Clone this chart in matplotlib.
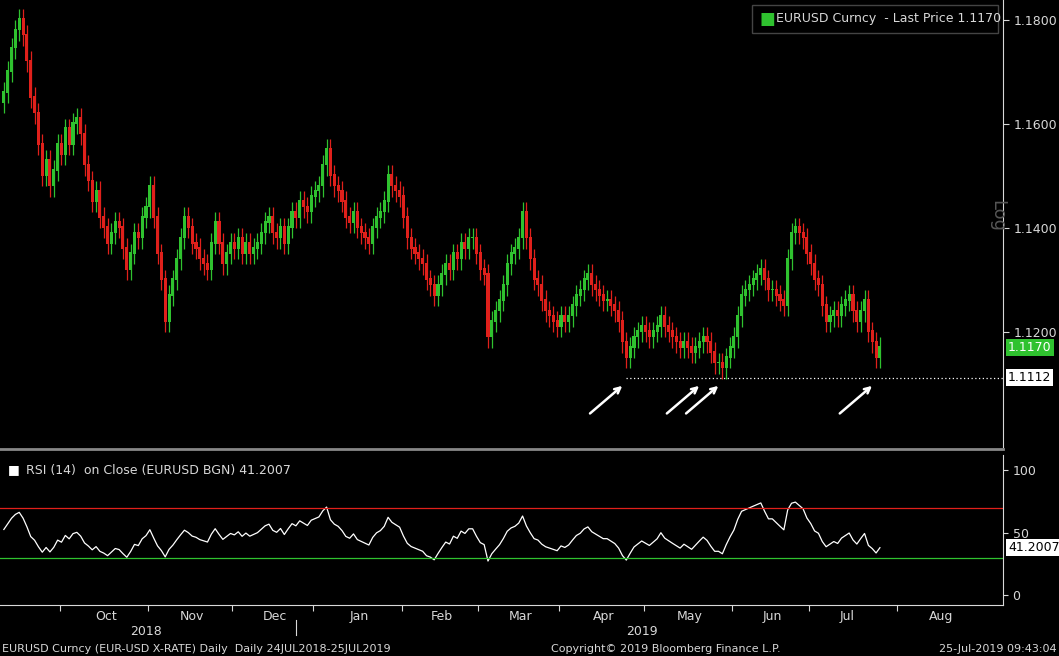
import matplotlib
matplotlib.use("Agg")
import matplotlib.pyplot as plt
from matplotlib.patches import Rectangle
import numpy as np
import pandas as pd

# daily closes (EURUSD)
closes = [
    1.1660, 1.1700, 1.1745, 1.1780, 1.1800, 1.1770, 1.1720, 1.1650, 1.1620, 1.1560,
    1.1500, 1.1530, 1.1480, 1.1510, 1.1560, 1.1540, 1.1590, 1.1560, 1.1600, 1.1610,
    1.1580, 1.1520, 1.1490, 1.1450, 1.1470, 1.1420, 1.1400, 1.1370, 1.1390, 1.1410,
    1.1400, 1.1360, 1.1320, 1.1350, 1.1390, 1.1380, 1.1420, 1.1440, 1.1480, 1.1420,
    1.1350, 1.1300, 1.1220, 1.1270, 1.1300, 1.1340, 1.1380, 1.1420, 1.1400, 1.1370,
    1.1360, 1.1340, 1.1330, 1.1320, 1.1370, 1.1410, 1.1370, 1.1330, 1.1350, 1.1370,
    1.1360, 1.1380, 1.1350, 1.1370, 1.1350, 1.1360, 1.1370, 1.1390, 1.1410, 1.1420,
    1.1390, 1.1380, 1.1400, 1.1370, 1.1400, 1.1430, 1.1420, 1.1450, 1.1440, 1.1430,
    1.1460, 1.1470, 1.1480, 1.1520, 1.1550, 1.1500, 1.1480, 1.1470, 1.1450, 1.1420,
    1.1410, 1.1430, 1.1400, 1.1390, 1.1380, 1.1370, 1.1400, 1.1420, 1.1430, 1.1450,
    1.1500, 1.1480, 1.1470, 1.1460, 1.1420, 1.1380, 1.1360, 1.1350, 1.1340, 1.1330,
    1.1300, 1.1290, 1.1270, 1.1290, 1.1310, 1.1330, 1.1320, 1.1350, 1.1340, 1.1370,
    1.1360, 1.1380, 1.1380, 1.1350, 1.1320, 1.1310, 1.1190, 1.1220, 1.1240, 1.1260,
    1.1290, 1.1330, 1.1350, 1.1360, 1.1380, 1.1430, 1.1380, 1.1340, 1.1300, 1.1290,
    1.1260, 1.1240, 1.1230, 1.1220, 1.1210, 1.1230, 1.1220, 1.1230, 1.1250, 1.1270,
    1.1280, 1.1300, 1.1310, 1.1290, 1.1280, 1.1270, 1.1260, 1.1260, 1.1250, 1.1240,
    1.1220, 1.1180, 1.1150, 1.1170, 1.1190, 1.1200, 1.1210, 1.1200, 1.1190, 1.1200,
    1.1210, 1.1230, 1.1210, 1.1200, 1.1190, 1.1180, 1.1170, 1.1180, 1.1170, 1.1160,
    1.1170, 1.1180, 1.1190, 1.1180, 1.1160, 1.1140, 1.1140, 1.1130, 1.1150, 1.1170,
    1.1190, 1.1230, 1.1270, 1.1280, 1.1290, 1.1300, 1.1310, 1.1320, 1.1300, 1.1280,
    1.1280, 1.1270, 1.1260, 1.1250, 1.1340, 1.1390, 1.1400, 1.1390, 1.1380, 1.1350,
    1.1330, 1.1300, 1.1290, 1.1250, 1.1220, 1.1230, 1.1240, 1.1230, 1.1250, 1.1260,
    1.1270, 1.1240, 1.1220, 1.1240, 1.1260, 1.1200, 1.1180, 1.1150, 1.1170,
]
first_open = 1.1640
wick = 0.0020
support = 1.1112
last_price = 1.1170
rsi_last = "41.2007"
price_ticks = [1.1200, 1.1400, 1.1600, 1.1800]
rsi_ticks = [0, 50, 100]
arrow_days = [162, 182, 187, 227]

dates = pd.bdate_range(end="2019-07-25", periods=len(closes))
c = np.array(closes)
o = np.concatenate([[first_open], c[:-1]])
hi = np.maximum(o, c) + wick
lo = np.minimum(o, c) - wick
idx = np.arange(len(c))

# RSI(14), Wilder
d = np.diff(np.concatenate([[first_open], c]))
up = np.where(d > 0, d, 0.0)
dn = np.where(d < 0, -d, 0.0)
au, ad = 0.0015, 0.0015
rsi = []
for u, v in zip(up, dn):
    au = (au * 13 + u) / 14
    ad = (ad * 13 + v) / 14
    rsi.append(100 - 100 / (1 + au / ad))
rsi = np.array(rsi)

GREEN, RED, BG, FG = "#2fc22f", "#e0201b", "black", "#d8d8d8"
fig = plt.figure(figsize=(10.59, 6.56), dpi=100, facecolor=BG)
ax = fig.add_axes([0, 0.3186, 0.947, 0.6814], facecolor=BG)
ax2 = fig.add_axes([0, 0.0777, 0.947, 0.2287], facecolor=BG)
xmax = 260
ylo, yhi = 1.0979, 1.1838

for i in idx:
    col = GREEN if c[i] >= o[i] else RED
    ax.vlines(i, lo[i], hi[i], color=col, lw=0.9)
    ax.bar(i, abs(c[i] - o[i]) + 0.0003, bottom=min(c[i], o[i]), width=0.8, color=col)

ax.set_xlim(-1, xmax)
ax.set_ylim(ylo, yhi)
ax.hlines(support, 162, xmax, colors="white", linestyles=(0, (1, 2)), lw=0.9)
for a in arrow_days:
    ax.annotate("", xy=(a - 0.5, support - 0.0012), xytext=(a - 10, support - 0.0072),
                arrowprops=dict(arrowstyle="->", color="white", lw=1.8))
ax.yaxis.tick_right()
ax.set_yticks(price_ticks)
ax.set_yticklabels([f"{t:.4f}" for t in price_ticks], color=FG, fontsize=9)
ax.tick_params(axis="y", colors=FG, length=4)
ax.set_xticks([])
for s in ax.spines.values():
    s.set_visible(False)
ax.spines["right"].set_visible(True)
ax.spines["right"].set_color(FG)
ax.text(1.005, (last_price - ylo) / (yhi - ylo), f"{last_price:.4f}", transform=ax.transAxes,
        va="center", fontsize=9, color="white", bbox=dict(fc=GREEN, ec="none", pad=1.5))
ax.text(1.005, (support - ylo) / (yhi - ylo), f"{support:.4f}", transform=ax.transAxes,
        va="center", fontsize=9, color="black", bbox=dict(fc="white", ec="none", pad=1.5))
ax.text(0.985, 0.49, "Log", transform=ax.transAxes, rotation=270, color="#555555", fontsize=13)
ax.add_patch(Rectangle((0.750, 0.926), 0.245, 0.063, transform=ax.transAxes,
                       fc="black", ec="#444444", lw=1, zorder=3))
ax.text(0.757, 0.958, "\u25A0", transform=ax.transAxes, color=GREEN, fontsize=12, va="center", zorder=4)
ax.text(0.774, 0.958, "EURUSD Curncy  - Last Price 1.1170", transform=ax.transAxes, color=FG,
        fontsize=9, va="center", zorder=4)

ax2.plot(idx, rsi, color="white", lw=0.9)
ax2.axhline(70, color=RED, lw=0.9)
ax2.axhline(30, color=GREEN, lw=0.9)
ax2.set_xlim(-1, xmax)
ax2.set_ylim(-8, 112)
ax2.yaxis.tick_right()
ax2.set_yticks(rsi_ticks)
ax2.set_yticklabels([str(t) for t in rsi_ticks], color=FG, fontsize=9)
ax2.tick_params(axis="y", colors=FG)
for s in ax2.spines.values():
    s.set_visible(False)
ax2.spines["right"].set_visible(True)
ax2.spines["right"].set_color(FG)
ax2.spines["bottom"].set_visible(True)
ax2.spines["bottom"].set_color(FG)
ax2.text(1.005, (rsi[-1] + 8) / 120, rsi_last, transform=ax2.transAxes, va="center",
         fontsize=9, color="black", bbox=dict(fc="white", ec="none", pad=1.5))
ax2.text(0.008, 0.9, "\u25A0", transform=ax2.transAxes, color="white", fontsize=9, va="center")
ax2.text(0.026, 0.9, "RSI (14)  on Close (EURUSD BGN) 41.2007", transform=ax2.transAxes,
         color=FG, fontsize=9, va="center")

# month ticks: boundaries + centered labels
months = pd.period_range("2018-10", "2019-08", freq="M")
bounds, centers = [], []
for m in months:
    start = np.searchsorted(dates, m.start_time)
    end = np.searchsorted(dates, m.end_time)
    if m.start_time > dates[-1]:
        start = len(dates) + len(pd.bdate_range(dates[-1], m.start_time)) - 2
        end = start + len(pd.bdate_range(m.start_time, m.end_time))
    bounds.append(start - 0.5)
    centers.append((start + end) / 2)
ax2.set_xticks(bounds)
ax2.set_xticklabels([])
ax2.tick_params(axis="x", colors=FG, length=4)
xt = ax2.get_xaxis_transform()
for m, cx in zip(months, centers):
    ax2.text(cx, -0.03, m.strftime("%b"), transform=xt, ha="center", va="top", color=FG, fontsize=9)
ax2.text(37, -0.13, "2018", transform=xt, ha="center", va="top", color=FG, fontsize=9)
ax2.text(166, -0.13, "2019", transform=xt, ha="center", va="top", color=FG, fontsize=9)
ax2.axvline(76, ymin=-0.2, ymax=-0.1, color=FG, lw=0.8, clip_on=False)

fig.add_artist(plt.Line2D([0, 0.947], [0.3156, 0.3156], color="#888888", lw=2))
fig.text(0.002, 0.006, "EURUSD Curncy (EUR-USD X-RATE) Daily  Daily 24JUL2018-25JUL2019", color=FG, fontsize=8)
fig.text(0.52, 0.006, "Copyright\u00a9 2019 Bloomberg Finance L.P.", color=FG, fontsize=8)
fig.text(0.998, 0.006, "25-Jul-2019 09:43:04", color=FG, fontsize=8, ha="right")

fig.savefig("out.png", dpi=100, facecolor=BG)
